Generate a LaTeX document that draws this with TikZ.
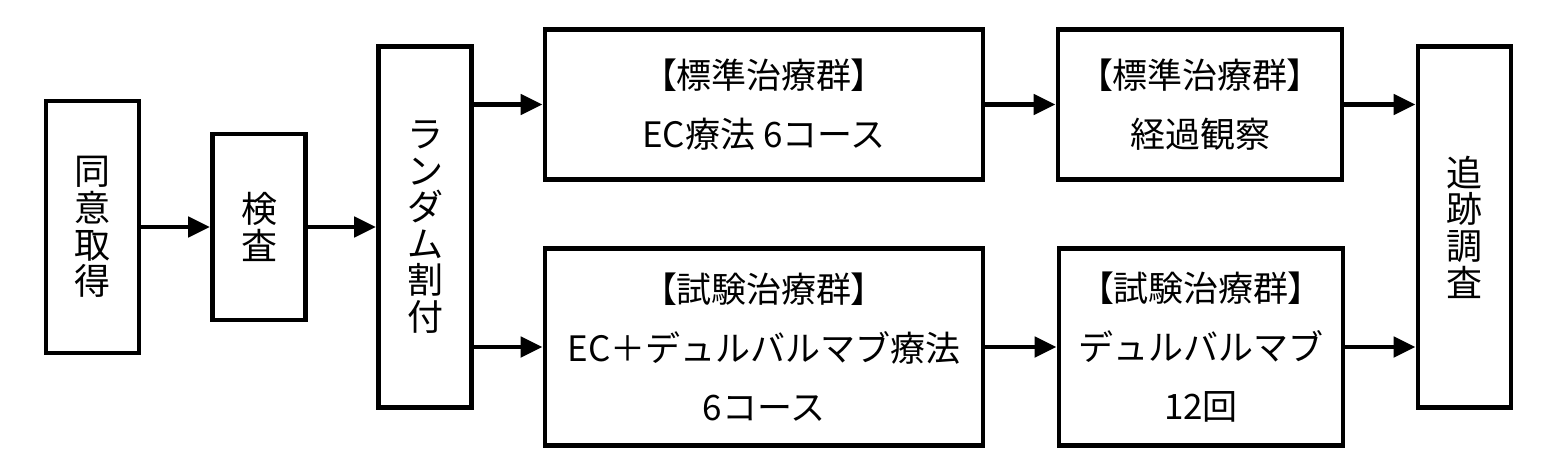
\documentclass[tikz,border=0pt]{standalone}
\usepackage{fontspec}
\setmainfont{Noto Sans CJK JP}
\newfontfamily\jpprop[RawFeature=+palt]{Noto Sans CJK JP}
\usetikzlibrary{arrows.meta,positioning,calc}
\newcommand{\grouphead}[1]{{\jpprop 【}#1{\jpprop 】}}

\begin{document}
\begin{tikzpicture}[
    x=0.5pt, y=-0.5pt,
    box/.style={
        rectangle, draw=black, line width=2.4pt,
        align=center, inner sep=0pt,
    },
    vbox/.style={box, minimum width=46.5pt, font=\fontsize{18}{18.3}\selectfont},
    hbox/.style={box, font=\fontsize{17.5}{29.5}\selectfont},
    arr/.style={-{Triangle[length=11pt,width=10pt]}, line width=2.4pt},
]
\useasboundingbox (0,0) rectangle (1557,472);

% Row heights of the two arms
\def\stdrow{104.5}
\def\testrow{347}

% Left: enrolment, vertical labels
\node[vbox, minimum height=126pt] (consent) at (92.5,227) {同\\意\\取\\得};
\node[vbox, minimum height=93pt] (exam) at (259,227) {検\\査};
\node[vbox, minimum height=180.5pt] (random) at (425,227) {ラ\\ン\\ダ\\ム\\割\\付};

% Standard arm
\node[hbox, minimum width=219pt, minimum height=75pt] (std_chemo) at (764,\stdrow)
    {\grouphead{標準治療群}\\EC療法 6コース};
\node[hbox, minimum width=142pt, minimum height=75pt] (std_obs) at (1200,\stdrow)
    {\grouphead{標準治療群}\\経過観察};

% Test arm
\node[hbox, minimum width=219pt, minimum height=98.5pt] (test_chemo) at (764,\testrow)
    {\grouphead{試験治療群}\\EC＋デュルバルマブ療法\\6コース};
\node[hbox, minimum width=142pt, minimum height=98.5pt] (test_durva) at (1201,\testrow)
    {\grouphead{試験治療群}\\デュルバルマブ\\12回};

% Right: follow-up
\node[vbox, minimum height=180.5pt] (follow) at (1464.5,227) {追\\跡\\調\\査};

% Arrows — enrolment
\draw[arr] (consent) -- (exam);
\draw[arr] (exam) -- (random);

% Arrows — split into the two arms
\draw[arr] (std_chemo.west -| random.east) -- (std_chemo.west);
\draw[arr] (test_chemo.west -| random.east) -- (test_chemo.west);

% Arrows — along each arm
\draw[arr] (std_chemo) -- (std_obs);
\draw[arr] (test_chemo) -- (test_durva);

% Arrows — into follow-up
\draw[arr] (std_obs.east) -- (std_obs.east -| follow.west);
\draw[arr] (test_durva.east) -- (test_durva.east -| follow.west);

\end{tikzpicture}
\end{document}
